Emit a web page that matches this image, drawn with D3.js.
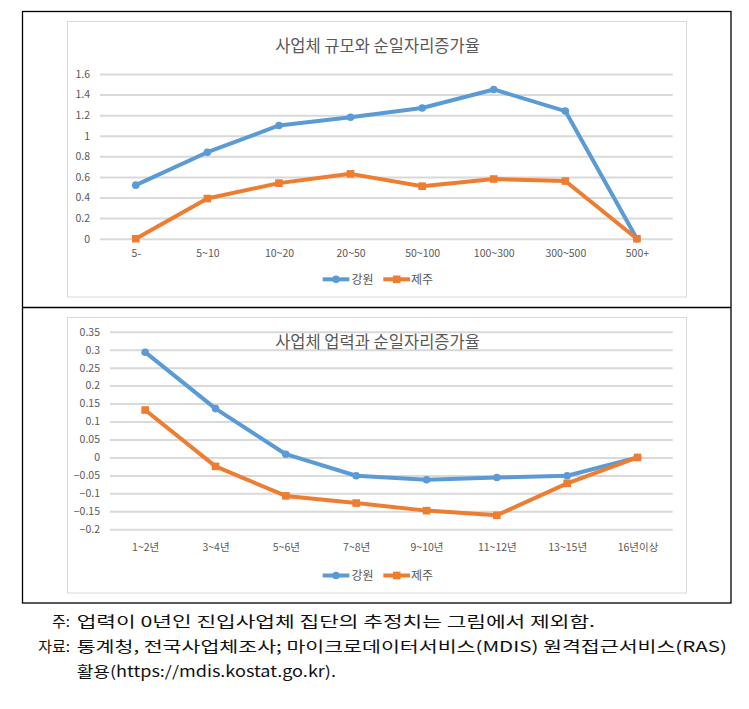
<!DOCTYPE html>
<html><head><meta charset="utf-8">
<script src="https://cdn.jsdelivr.net/npm/d3@7"></script>
<style>body{margin:0;background:#fff}svg{display:block}</style>
</head><body>
<svg id="c" width="749" height="709"></svg>
<script>
const sizeCategories = ["5-","5~10","10~20","20~50","50~100","100~300","300~500","500+"];
const sizeGangwon = [0.52,0.84,1.10,1.18,1.27,1.45,1.24,0];
const sizeJeju = [0,0.39,0.54,0.63,0.51,0.58,0.56,0];
const sizeTicks = [0,0.2,0.4,0.6,0.8,1,1.2,1.4,1.6];

const ageCategories = ["1~2년","3~4년","5~6년","7~8년","9~10년","11~12년","13~15년","16년이상"];
const ageGangwon = [0.293,0.136,0.009,-0.051,-0.062,-0.056,-0.051,0];
const ageJeju = [0.132,-0.025,-0.107,-0.127,-0.148,-0.161,-0.072,0];
const ageTicks = [-0.2,-0.15,-0.1,-0.05,0,0.05,0.1,0.15,0.2,0.25,0.3,0.35];

const seriesNames = ["강원","제주"];
const colors = ["#5B9BD5","#ED7D31"];
const titles = ["사업체 규모와 순일자리증가율","사업체 업력과 순일자리증가율"];
const notes = [["주:","업력이 0년인 진입사업체 집단의 추정치는 그림에서 제외함."],
               ["자료:","통계청, 전국사업체조사; 마이크로데이터서비스(MDIS) 원격접근서비스(RAS)"],
               ["","활용(https://mdis.kostat.go.kr)."]];

const svg = d3.select("#c");
const FONT = "'Noto Sans CJK KR', 'Noto Sans', sans-serif";
const TXT = "#595959";

// outer frame
svg.append("rect").attr("x",22.5).attr("y",11.5).attr("width",708.5).attr("height",591.5)
  .attr("fill","none").attr("stroke","#000").attr("stroke-width",1.3);
svg.append("line").attr("x1",22.5).attr("x2",731).attr("y1",307.5).attr("y2",307.5)
  .attr("stroke","#000").attr("stroke-width",1.3);

function drawChart(cfg){
  const g = svg.append("g");
  g.append("rect").attr("x",cfg.box[0]).attr("y",cfg.box[1]).attr("width",cfg.box[2]).attr("height",cfg.box[3])
    .attr("fill","#fff").attr("stroke","#D9D9D9").attr("stroke-width",1);
  const x = d3.scalePoint().domain(cfg.cats).range([cfg.x0,cfg.x1]).padding(0.5);
  const y = d3.scaleLinear().domain(cfg.domain).range(cfg.yr);
  const ya = d3.axisLeft(y).tickValues(cfg.ticks).tickSize(cfg.x1-cfg.x0).tickPadding(10)
    .tickFormat(d=>d3.format("")(+d.toFixed(2)));
  const yg = g.append("g").attr("transform",`translate(${cfg.x1},0)`).call(ya);
  yg.select(".domain").remove();
  yg.selectAll("line").attr("stroke","#D9D9D9").attr("stroke-width",2);
  yg.selectAll("text").attr("fill",TXT).style("font-family",FONT).style("font-size","10.5px");
  const xa = d3.axisBottom(x).tickSize(0).tickPadding(0);
  const xg = g.append("g").attr("transform",`translate(0,${cfg.xaY})`).call(xa);
  xg.select(".domain").remove();
  xg.selectAll("text").attr("fill",TXT).attr("dy","0.35em").style("font-family",FONT).style("font-size","10.5px");
  g.append("text").attr("x",377.5).attr("y",cfg.titleY).attr("text-anchor","middle").attr("dy","0.35em")
    .attr("fill",TXT).style("font-family",FONT).style("font-size","16.5px").text(cfg.title);
  const line = d3.line().x((d,i)=>x(cfg.cats[i])).y(d=>y(d));
  cfg.series.forEach((vals,si)=>{
    g.append("path").datum(vals).attr("d",line).attr("fill","none").attr("stroke",colors[si])
      .attr("stroke-width",4).attr("stroke-linejoin","round");
    if(si===0){
      g.selectAll(null).data(vals).enter().append("circle")
        .attr("cx",(d,i)=>x(cfg.cats[i])).attr("cy",d=>y(d)).attr("r",3.8).attr("fill",colors[si]);
    } else {
      g.selectAll(null).data(vals).enter().append("rect")
        .attr("x",(d,i)=>x(cfg.cats[i])-3.8).attr("y",d=>y(d)-3.8).attr("width",7.6).attr("height",7.6).attr("fill",colors[si]);
    }
  });
  // legend
  const ly = cfg.legY;
  const leg = [[322.7,349.3,336,351.5],[383.3,410,396.7,411]];
  leg.forEach((L,si)=>{
    g.append("line").attr("x1",L[0]).attr("x2",L[1]).attr("y1",ly).attr("y2",ly).attr("stroke",colors[si]).attr("stroke-width",4);
    if(si===0) g.append("circle").attr("cx",L[2]).attr("cy",ly).attr("r",3.8).attr("fill",colors[si]);
    else g.append("rect").attr("x",L[2]-3.8).attr("y",ly-3.8).attr("width",7.6).attr("height",7.6).attr("fill",colors[si]);
    g.append("text").attr("x",L[3]).attr("y",ly).attr("dy","0.35em").attr("fill",TXT)
      .style("font-family",FONT).style("font-size","12px").text(seriesNames[si]);
  });
}

drawChart({box:[67.5,21.5,619,275.5],cats:sizeCategories,x0:100,x1:672.7,domain:[0,1.6],yr:[238.7,74],
  ticks:sizeTicks,xaY:253.3,titleY:46,title:titles[0],series:[sizeGangwon,sizeJeju],legY:279.3});
drawChart({box:[67.5,317.5,619,275.5],cats:ageCategories,x0:110,x1:672.7,domain:[-0.2,0.35],yr:[529.3,331.7],
  ticks:ageTicks,xaY:547.3,titleY:342,title:titles[1],series:[ageGangwon,ageJeju],legY:575.5});

// notes
const noteY = [622,647,672];
const noteEnd = [595,727,336];
notes.forEach((n,i)=>{
  if(n[0]) svg.append("text").attr("x",70).attr("y",noteY[i]).attr("dy","0.35em").attr("text-anchor","end")
    .style("font-family",FONT).style("font-size","15px").attr("fill","#111").text(n[0]);
  svg.append("text").attr("x",76.7).attr("y",noteY[i]).attr("dy","0.35em")
    .attr("textLength",noteEnd[i]-76.7).attr("lengthAdjust","spacingAndGlyphs")
    .style("font-family",FONT).style("font-size","15px").attr("fill","#111").text(n[1]);
});
</script>
</body></html>
